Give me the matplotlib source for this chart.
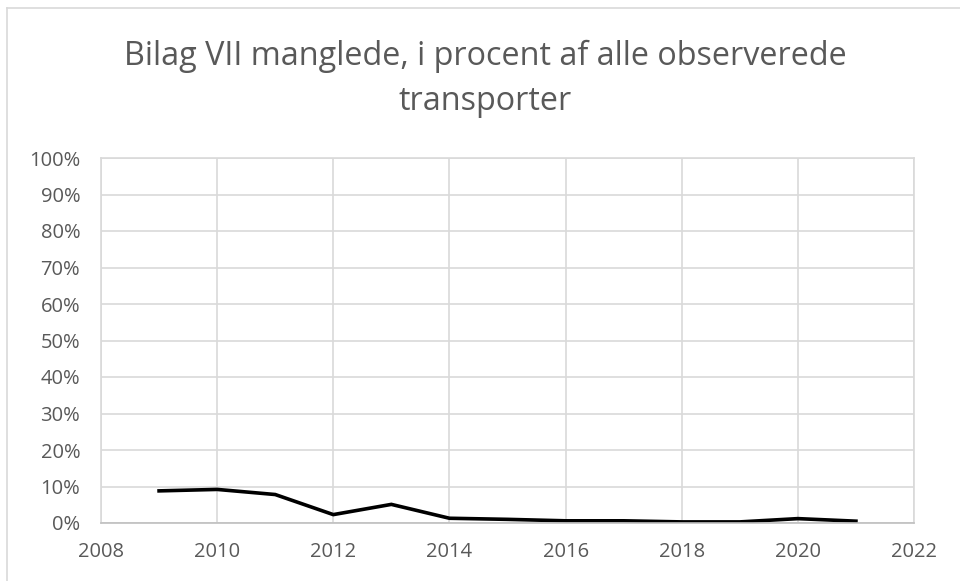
import numpy as np
import matplotlib.pyplot as plt
from matplotlib.ticker import PercentFormatter

years = [2009, 2010, 2011, 2012, 2013, 2014, 2015, 2016, 2017, 2018, 2019, 2020, 2021]
andel = [8.8, 9.2, 7.8, 2.3, 5.1, 1.3, 1.0, 0.6, 0.6, 0.3, 0.3, 1.2, 0.5]

titel = "Bilag VII manglede, i procent af alle observerede\ntransporter"

plt.rcParams['font.family'] = ['Open Sans', 'DejaVu Sans']

fig = plt.figure(figsize=(9.6, 5.81), dpi=100)
ax = fig.add_axes([101 / 960, 1 - 523 / 581, (914 - 101) / 960, (523 - 158) / 581])

# ramme om diagrammet (kun venstre og top ses)
fig.add_artist(plt.Line2D([7 / 960, 7 / 960], [0, 1 - 8 / 581], color='#d9d9d9', lw=1.2))
fig.add_artist(plt.Line2D([7 / 960, 1], [1 - 8 / 581, 1 - 8 / 581], color='#d9d9d9', lw=1.2))

ax.plot(years, andel, color='black', lw=2.6, solid_joinstyle='miter')

ax.set_xlim(2008, 2022)
ax.set_ylim(0, 100)
ax.set_xticks(np.arange(2008, 2023, 2))
ax.set_yticks(np.arange(0, 101, 10))
ax.yaxis.set_major_formatter(PercentFormatter(decimals=0))

ax.grid(True, color='#d9d9d9', lw=1.2)
ax.set_axisbelow(True)
for s in ['top', 'right', 'left']:
    ax.spines[s].set_color('#d9d9d9')
    ax.spines[s].set_linewidth(1.2)
ax.spines['bottom'].set_color('#bfbfbf')
ax.spines['bottom'].set_linewidth(1.2)

ax.tick_params(length=0, labelsize=14.5, labelcolor='#595959')
ax.tick_params(axis='y', pad=15)
ax.tick_params(axis='x', pad=14)

fig.text(485 / 960, 1 - 79 / 581, titel, ha='center', va='center', fontsize=23.3,
         color='#595959', linespacing=1.45)

fig.savefig('out.png', dpi=100)
